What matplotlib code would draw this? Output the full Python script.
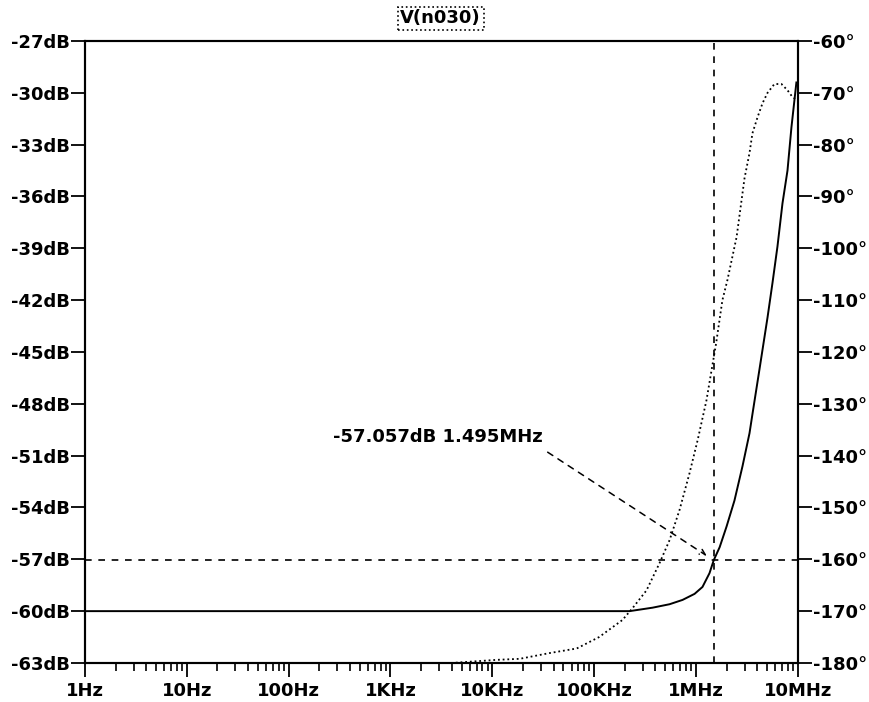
import matplotlib.pyplot as plt
import matplotlib.ticker as mticker

plt.rcParams['font.family'] = ['DejaVu Sans']
plt.rcParams['font.weight'] = 'bold'

# magnitude trace (left axis, dB)
mag_freq = [1, 1e5, 2.23e5, 3.75e5, 5.51e5, 7.39e5, 9.7e5, 1.16e6, 1.36e6, 1.495e6,
            1.71e6, 2.0e6, 2.39e6, 2.87e6, 3.36e6, 3.59e6, 4.21e6, 5.05e6, 5.65e6,
            6.32e6, 7.08e6, 7.93e6, 8.67e6, 9.7e6]
mag_db = [-60, -60, -60.0, -59.8, -59.6, -59.35, -59.0, -58.6, -57.8, -57.057,
          -56.3, -55.1, -53.6, -51.6, -49.7, -48.6, -46.0, -43.0, -41.0,
          -38.9, -36.4, -34.5, -32.0, -29.4]

# phase trace (right axis, degrees)
phase_freq = [1, 4e3, 1.1e4, 1.86e4, 3.63e4, 6.76e4, 1.12e5, 1.9e5, 2.39e5, 3.27e5,
              4.4e5, 5.51e5, 6.9e5, 8.65e5, 1.04e6, 1.27e6, 1.58e6, 1.82e6, 2.04e6,
              2.51e6, 3.0e6, 3.36e6, 3.59e6, 4.03e6, 4.51e6, 5.05e6, 5.9e6, 6.92e6,
              7.93e6, 8.87e6, 9.5e6]
phase_deg = [-180, -180, -179.4, -179.2, -178.1, -177.2, -175.0, -171.7, -169.4, -166.0,
             -160.7, -156.3, -150.5, -143.4, -137.0, -129.3, -118.3, -110.0, -106.1,
             -97.8, -86.5, -81.6, -77.8, -74.7, -72.0, -70.0, -68.3, -68.3,
             -69.5, -70.8, -71.2]

cursor_f = 1.495e6
cursor_db = -57.057

x_ticks = [1, 10, 100, 1e3, 1e4, 1e5, 1e6, 1e7]
x_labels = ['1Hz', '10Hz', '100Hz', '1KHz', '10KHz', '100KHz', '1MHz', '10MHz']
db_ticks = list(range(-63, -26, 3))
deg_ticks = list(range(-180, -59, 10))

fig = plt.figure(figsize=(8.69, 7.02), dpi=100)
ax = fig.add_axes([0.0978, 0.0556, 0.8202, 0.886])
ax2 = ax.twinx()

ax.plot(mag_freq, mag_db, color='black', lw=1.4, zorder=3)
ax2.plot(phase_freq, phase_deg, color='black', lw=1.3, linestyle=(0, (1, 1.6)))

ax.set_xscale('log')
ax.set_xlim(1, 1e7)
ax.set_ylim(-63, -27)
ax2.set_ylim(-180, -60)

# cursor
ax.axvline(cursor_f, color='black', lw=1.2, linestyle=(0, (4, 4)))
ax.axhline(cursor_db, color='black', lw=1.2, linestyle=(0, (4, 4)))
ax.text(272, -49.9, '-57.057dB 1.495MHz', fontsize=13, fontweight='bold',
        va='center', ha='left')
ax.annotate('', xy=(cursor_f, cursor_db), xytext=(3.5e4, -50.8),
            arrowprops=dict(arrowstyle='->', linestyle=(0, (4, 4)), lw=1.1,
                            color='black', shrinkA=0, shrinkB=6))

ax.set_xticks(x_ticks)
ax.set_xticklabels(x_labels)
ax.xaxis.set_minor_locator(mticker.LogLocator(base=10, subs=range(2, 10), numticks=100))
ax.xaxis.set_minor_formatter(mticker.NullFormatter())
ax.set_yticks(db_ticks)
ax.set_yticklabels([f'{v}dB' for v in db_ticks])
ax2.set_yticks(deg_ticks)
ax2.set_yticklabels([f'{v}\u00b0' for v in deg_ticks])

for a in (ax, ax2):
    a.tick_params(axis='both', which='major', length=10, width=1.3, labelsize=13,
                  direction='out', pad=1)
    for s in a.spines.values():
        s.set_linewidth(1.5)
ax.tick_params(axis='x', which='minor', length=6, width=1.2)
ax.tick_params(axis='x', which='major', pad=4)

fig.text(0.507, 0.974, 'V(n030)', fontsize=13, fontweight='bold', ha='center',
         va='center', bbox=dict(boxstyle='square,pad=0.15', fc='white', ec='black',
                                linestyle=':', lw=1.2))

fig.savefig('out.png', dpi=100)
